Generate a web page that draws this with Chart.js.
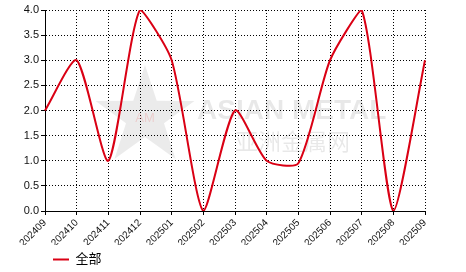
<!DOCTYPE html>
<html>
<head>
<meta charset="utf-8">
<script src="https://cdn.jsdelivr.net/npm/chart.js@4"></script>
<style>
  html, body { margin: 0; padding: 0; background: #fff; }
  #wrap { width: 466px; height: 272px; }
</style>
</head>
<body>
<div id="wrap"><canvas id="lineChart" width="466" height="272"></canvas></div>
<script>
const months = ['202409', '202410', '202411', '202412', '202501', '202502', '202503',
                '202504', '202505', '202506', '202507', '202508', '202509'];
const allValues = [2, 3, 1, 4, 3, 0, 2, 1, 0.95, 3, 4, 0, 3];
const seriesName = '全部';

const fontFamily = '"Liberation Sans", Arial, "Noto Sans CJK SC", sans-serif';

// faint watermark behind the line
const watermark = {
    id: 'watermark',
    beforeDatasetsDraw(chart) {
        const c = chart.ctx;
        c.save();
        // star
        c.fillStyle = 'rgba(0,0,0,0.08)';
        c.beginPath();
        const cx = 145, cy = 117, ro = 52, ri = 20;
        for (let i = 0; i < 10; i++) {
            const r = i % 2 ? ri : ro;
            const a = -Math.PI / 2 + i * Math.PI / 5;
            c.lineTo(cx + r * Math.cos(a), cy + r * Math.sin(a));
        }
        c.closePath();
        c.fill();
        c.fillStyle = 'rgba(230,80,80,0.2)';
        c.font = '13px ' + fontFamily;
        c.textAlign = 'center';
        c.textBaseline = 'middle';
        c.fillText('AM', 145, 118);
        c.fillStyle = 'rgba(0,0,0,0.09)';
        c.textAlign = 'left';
        c.font = 'bold 28px ' + fontFamily;
        c.fillText('ASIAN METAL', 197, 111);
        c.font = '23px "Noto Sans CJK SC", sans-serif';
        c.fillText('亚洲金属网', 235, 141);
        c.restore();
    }
};

const ctx = document.getElementById('lineChart').getContext('2d');
const lineChart = new Chart(ctx, {
    type: 'line',
    data: {
        labels: months,
        datasets: [{
            label: seriesName,
            data: allValues,
            borderColor: 'rgb(218,0,20)',
            backgroundColor: 'rgb(218,0,20)',
            borderWidth: 2,
            pointRadius: 0,
            tension: 0.22,
            fill: false
        }]
    },
    options: {
        responsive: false,
        animation: false,
        layout: { padding: { left: 0, right: 41, top: 10, bottom: -4 } },
        scales: {
            x: {
                grid: { color: '#000', tickLength: 4, tickColor: '#000', tickBorderDash: [] },
                border: { color: '#000', width: 1, dash: [1, 2] },
                ticks: {
                    color: '#111', maxRotation: 45, minRotation: 45, padding: 2,
                    autoSkip: false, font: { family: fontFamily, size: 10 }
                },
                afterFit(scale) { scale.height = 34; }
            },
            y: {
                min: 0,
                max: 4,
                grid: { color: '#000', tickLength: 4, tickColor: '#000', tickBorderDash: [] },
                border: { color: '#000', width: 1, dash: [1, 2] },
                ticks: {
                    stepSize: 0.5, color: '#111', padding: 2,
                    font: { family: fontFamily, size: 11 },
                    callback: v => v.toFixed(1)
                },
                afterFit(scale) { scale.width = 45; }
            }
        },
        plugins: {
            legend: {
                position: 'bottom',
                align: 'start',
                fullSize: false,
                labels: {
                    usePointStyle: true,
                    pointStyle: 'line',
                    pointStyleWidth: 16,
                    color: '#000',
                    padding: 8,
                    font: { family: fontFamily, size: 13 }
                }
            },
            tooltip: { enabled: false }
        }
    },
    plugins: [watermark]
});
</script>
</body>
</html>
